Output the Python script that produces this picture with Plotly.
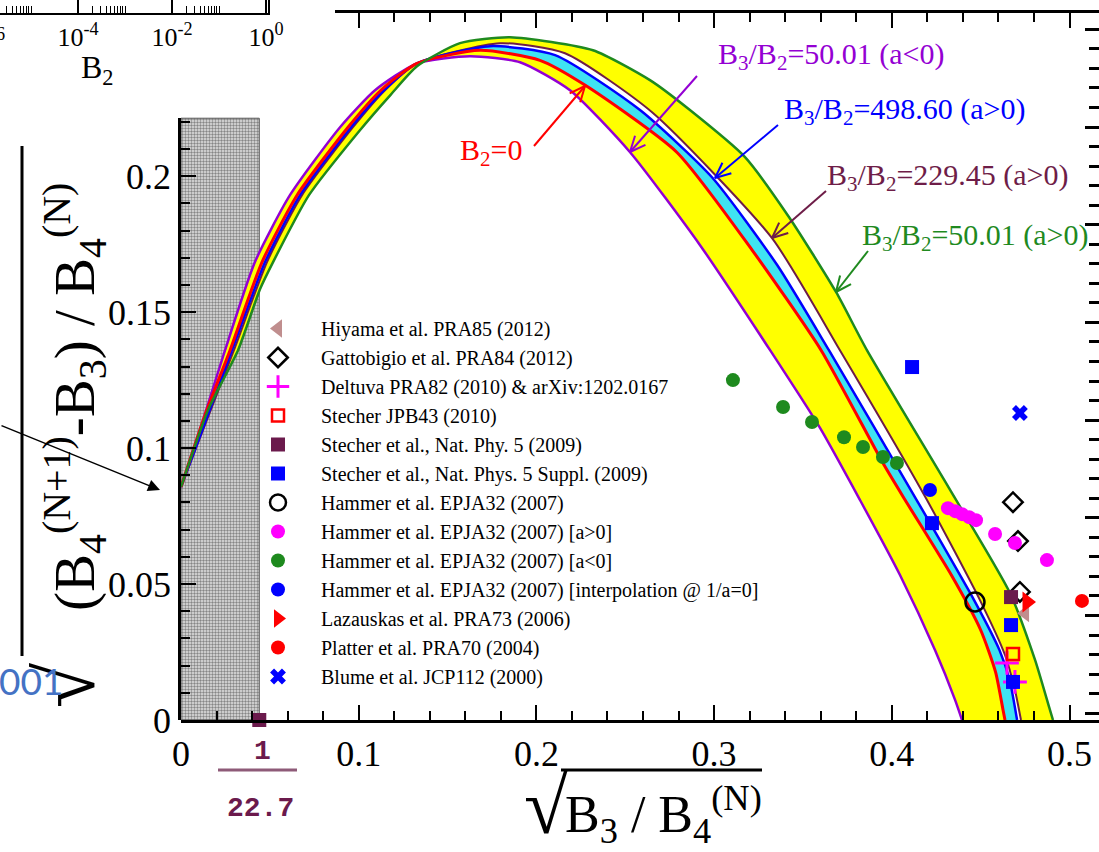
import math
import plotly.graph_objects as go

W, H = 1099, 852

# ---------------------------------------------------------------
# Universal curves: x = sqrt(B3/B4^(N)), y = sqrt((B4^(N+1)-B3)/B4^(N))
# ---------------------------------------------------------------
neg50_x = [0.0, 0.0124, 0.0248, 0.0416, 0.0613, 0.0895, 0.1092, 0.1328, 0.1626, 0.1908,
           0.2189, 0.2527, 0.2921, 0.3315, 0.3596, 0.3821, 0.4046, 0.4243, 0.4356, 0.4395]
neg50_y = [0.0857, 0.1103, 0.1360, 0.1684, 0.1930, 0.2180, 0.2316, 0.2415, 0.2441, 0.2419,
           0.2316, 0.2088, 0.1746, 0.1360, 0.1074, 0.0809, 0.0533, 0.0257, 0.0074, 0.0]

b2zero_x = [0.0, 0.0135, 0.0276, 0.0456, 0.0653, 0.0940, 0.1125, 0.1328, 0.1683, 0.2020, 0.2273,
            0.2790, 0.3214, 0.3602, 0.3950, 0.4075, 0.4335, 0.4500, 0.4584, 0.4626, 0.4637]
b2zero_y = [0.0857, 0.1121, 0.1360, 0.1684, 0.1930, 0.2180, 0.2316, 0.2415, 0.2463, 0.2426, 0.2335,
            0.2088, 0.1728, 0.1360, 0.0945, 0.0809, 0.0533, 0.0331, 0.0176, 0.0037, 0.0]

pos498_x = [0.0, 0.0287, 0.0473, 0.0670, 0.0957, 0.1142, 0.1328, 0.1739, 0.2105, 0.2583,
            0.2988, 0.3355, 0.3646, 0.4140, 0.4463, 0.4606, 0.4663, 0.4705]
pos498_y = [0.0857, 0.1360, 0.1684, 0.1930, 0.2180, 0.2316, 0.2415, 0.2478, 0.2445, 0.2243,
            0.1996, 0.1673, 0.1360, 0.0809, 0.0441, 0.0257, 0.0147, 0.0]

pos229_x = [0.0, 0.0298, 0.0484, 0.0681, 0.0968, 0.1148, 0.1328, 0.1795, 0.2161, 0.2651,
            0.3326, 0.3708, 0.4198, 0.4496, 0.4637, 0.4693, 0.4727]
pos229_y = [0.0857, 0.1360, 0.1684, 0.1930, 0.2180, 0.2316, 0.2415, 0.2489, 0.2452, 0.2235,
            0.1772, 0.1360, 0.0809, 0.0441, 0.0239, 0.0110, 0.0]

pos50_x = [0.0, 0.0152, 0.0321, 0.0445, 0.0518, 0.0720, 0.1007, 0.1182, 0.1328, 0.1570, 0.1851,
           0.2318, 0.2639, 0.2864, 0.3174, 0.3422, 0.3686, 0.3860, 0.4328, 0.4665, 0.4806, 0.4890, 0.4907]
pos50_y = [0.0857, 0.1140, 0.1360, 0.1585, 0.1684, 0.1930, 0.2169, 0.2301, 0.2404, 0.2489, 0.2511,
           0.2463, 0.2353, 0.2243, 0.2070, 0.1849, 0.1574, 0.1360, 0.0846, 0.0467, 0.0221, 0.0037, 0.0]

# lower limit of sqrt(B3/B4^(N)) = 1/22.7
LIMIT_DENOM = 22.7
LIMIT_TOP = 0.2213

# ---------------------------------------------------------------
# Published calculations
# ---------------------------------------------------------------
hiyama_x = [0.4750]
hiyama_y = [0.0393]
gatto_x = [0.4682, 0.4710, 0.4721]
gatto_y = [0.0801, 0.0658, 0.0471]
deltuva_x = [0.4648, 0.4693]
deltuva_y = [0.0210, 0.0140]
stecher_jpb_x = [0.4682]
stecher_jpb_y = [0.0243]
stecher_np_x = [1.0 / LIMIT_DENOM, 0.4671]
stecher_np_y = [0.0, 0.0452]
stecher_sup_x = [0.4114, 0.4226, 0.4671, 0.4682]
stecher_sup_y = [0.1298, 0.0724, 0.0349, 0.0140]
hammer_x = [0.4468]
hammer_y = [0.0434]
hammer_pos_x = [0.4316, 0.4356, 0.4395, 0.4435, 0.4474, 0.4581, 0.4693, 0.4873]
hammer_pos_y = [0.0779, 0.0768, 0.0757, 0.0746, 0.0735, 0.0684, 0.0651, 0.0588]
hammer_neg_x = [0.3106, 0.3388, 0.3551, 0.3731, 0.3838, 0.3950, 0.4029]
hammer_neg_y = [0.1250, 0.1151, 0.1096, 0.1040, 0.1004, 0.0967, 0.0945]
hammer_int_x = [0.4215]
hammer_int_y = [0.0846]
lazauskas_x = [0.4761]
lazauskas_y = [0.0434]
platter_x = [0.5070]
platter_y = [0.0438]
blume_x = [0.4721]
blume_y = [0.1129]

# inset axis (B2, log scale)
inset_major = [1e-4, 1e-2, 1.0]
inset_major_text = ["10<sup>-4</sup>", "10<sup>-2</sup>", "10<sup>0</sup>"]

X_RANGE = [0.0, 0.5166]
Y_RANGE = [0.0, 0.26]

# ---------------------------------------------------------------
SERIF = "Liberation Serif, Times New Roman, serif"
MONO = "Liberation Mono, Courier New, monospace"
PURPLE = "#9400D3"
RED = "#FF0000"
BLUE = "#0000FF"
MAROON = "#6E1D48"
GREEN = "#1F8A1F"
YELLOW = "#FFFF00"
CYAN = "#3FE3F2"

# plot frame in pixels
PL, PR, PT, PB = 181, 1099, 13, 720
LEFT_TOP = 118      # left frame is hidden above this row by the inset
TOP_START = 335     # top frame starts here


def px(xp):
    return xp / W


def py(yp):
    return 1 - yp / H


fig = go.Figure()

# shaded excluded region
g = 1.0 / LIMIT_DENOM
fig.add_trace(go.Scatter(
    x=[0, g, g, 0, 0], y=[0, 0, LIMIT_TOP, LIMIT_TOP, 0],
    mode="lines", fill="toself",
    fillcolor="#D0D0D0",
    fillpattern=dict(shape=".", fgcolor="#2A2A2A", bgcolor="#E2E2E2", size=3, solidity=0.5),
    line=dict(color="#555555", width=1),
    showlegend=False, hoverinfo="skip"))

SPL = dict(shape="spline", smoothing=0.6)

# band fills
fig.add_trace(go.Scatter(x=neg50_x, y=neg50_y, mode="lines", line=dict(width=0, **SPL),
                         showlegend=False, hoverinfo="skip"))
fig.add_trace(go.Scatter(x=pos50_x, y=pos50_y, mode="lines", line=dict(width=0, **SPL),
                         fill="tonexty", fillcolor=YELLOW, showlegend=False, hoverinfo="skip"))
fig.add_trace(go.Scatter(x=b2zero_x, y=b2zero_y, mode="lines", line=dict(width=0, **SPL),
                         showlegend=False, hoverinfo="skip"))
fig.add_trace(go.Scatter(x=pos498_x, y=pos498_y, mode="lines", line=dict(width=0, **SPL),
                         fill="tonexty", fillcolor=CYAN, showlegend=False, hoverinfo="skip"))
fig.add_trace(go.Scatter(x=pos498_x, y=pos498_y, mode="lines", line=dict(width=0, **SPL),
                         showlegend=False, hoverinfo="skip"))
fig.add_trace(go.Scatter(x=pos229_x, y=pos229_y, mode="lines", line=dict(width=0, **SPL),
                         fill="tonexty", fillcolor="#FFFFFF", showlegend=False, hoverinfo="skip"))

# curves
for cx, cy, col, wd in [(neg50_x, neg50_y, PURPLE, 2.5), (pos229_x, pos229_y, MAROON, 2),
                        (pos498_x, pos498_y, BLUE, 2.5), (b2zero_x, b2zero_y, RED, 3),
                        (pos50_x, pos50_y, GREEN, 2.5)]:
    fig.add_trace(go.Scatter(x=cx, y=cy, mode="lines", line=dict(color=col, width=wd, **SPL),
                             showlegend=False, hoverinfo="skip"))

# data points (legend order)
pts = [
    ("Hiyama et al. PRA85 (2012)", hiyama_x, hiyama_y,
     dict(symbol="triangle-left", size=16, color="#C08E8E")),
    ("Gattobigio et al. PRA84 (2012)", gatto_x, gatto_y,
     dict(symbol="diamond-open", size=15, color="black", line=dict(width=2.5, color="black"))),
    ("Deltuva PRA82 (2010) &amp; arXiv:1202.0167", deltuva_x, deltuva_y,
     dict(symbol="cross-thin-open", size=17, color="#FF00FF", line=dict(width=3, color="#FF00FF"))),
    ("Stecher JPB43 (2010)", stecher_jpb_x, stecher_jpb_y,
     dict(symbol="square-open", size=12, color="#FF0000", line=dict(width=2.5, color="#FF0000"))),
    ("Stecher et al., Nat. Phy. 5 (2009)", stecher_np_x, stecher_np_y,
     dict(symbol="square", size=14, color="#6B1A4C")),
    ("Stecher et al., Nat. Phys. 5 Suppl. (2009)", stecher_sup_x, stecher_sup_y,
     dict(symbol="square", size=14, color="#0000FF")),
    ("Hammer et al. EPJA32 (2007)", hammer_x, hammer_y,
     dict(symbol="circle-open", size=19, color="black", line=dict(width=2.5, color="black"))),
    ("Hammer et al. EPJA32 (2007) [a&gt;0]", hammer_pos_x, hammer_pos_y,
     dict(symbol="circle", size=14, color="#FF00FF")),
    ("Hammer et al. EPJA32 (2007) [a&lt;0]", hammer_neg_x, hammer_neg_y,
     dict(symbol="circle", size=14, color="#1E8A1E")),
    ("Hammer et al. EPJA32 (2007) [interpolation @ 1/a=0]", hammer_int_x, hammer_int_y,
     dict(symbol="circle", size=14, color="#0000FF")),
    ("Lazauskas et al. PRA73 (2006)", lazauskas_x, lazauskas_y,
     dict(symbol="triangle-right", size=18, color="#FF0000")),
    ("Platter et al. PRA70 (2004)", platter_x, platter_y,
     dict(symbol="circle", size=14, color="#FF0000")),
    ("Blume et al. JCP112 (2000)", blume_x, blume_y,
     dict(symbol="x", size=14, color="#0000FF")),
]
for name, xs, ys, mk in pts:
    fig.add_trace(go.Scatter(x=xs, y=ys, mode="markers", name=name, marker=mk,
                             cliponaxis=False, hoverinfo="skip"))

# helper traces so the extra frame axes are drawn
fig.add_trace(go.Scatter(x=[None], y=[None], xaxis="x2", yaxis="y", showlegend=False, hoverinfo="skip"))
fig.add_trace(go.Scatter(x=[None], y=[None], xaxis="x", yaxis="y3", showlegend=False, hoverinfo="skip"))
fig.add_trace(go.Scatter(x=[None], y=[None], xaxis="x", yaxis="y2", showlegend=False, hoverinfo="skip"))
fig.add_trace(go.Scatter(x=[None], y=[None], xaxis="x4", yaxis="y4", showlegend=False, hoverinfo="skip"))

tickfont = dict(family=SERIF, size=36, color="black")
xdom = [px(PL), 1.0]
ydom = [py(PB), py(PT)]
unit_x = (PR - PL) / (X_RANGE[1] - X_RANGE[0])
unit_y = (PB - PT) / (Y_RANGE[1] - Y_RANGE[0])

shapes = []
annotations = []


def seg(x0, y0, x1, y1, color, width):
    shapes.append(dict(type="line", xref="paper", yref="paper",
                       x0=px(x0), y0=py(y0), x1=px(x1), y1=py(y1),
                       line=dict(color=color, width=width), layer="above"))


def arrow(tail, tip, color, width=2, head=17, spread=0.42):
    (x0, y0), (x1, y1) = tail, tip
    dx, dy = x1 - x0, y1 - y0
    L = math.hypot(dx, dy)
    vx, vy = -dx / L, -dy / L
    seg(x0, y0, x1, y1, color, width)
    for s in (1, -1):
        a = spread * s
        hx = vx * math.cos(a) - vy * math.sin(a)
        hy = vx * math.sin(a) + vy * math.cos(a)
        seg(x1, y1, x1 + head * hx, y1 + head * hy, color, width)


def label(text, xl, yc, color, size=30, anchor="left", family=SERIF, angle=0, bold=False):
    annotations.append(dict(text=text, xref="paper", yref="paper", x=px(xl), y=py(yc),
                            xanchor=anchor, yanchor="middle", showarrow=False, textangle=angle,
                            font=dict(family=family, size=size, color=color,
                                      weight="bold" if bold else "normal")))


# curve labels with arrows
label("B<sub>2</sub>=0", 458, 152, RED)
arrow((534, 146), (585, 86), RED)
label("B<sub>3</sub>/B<sub>2</sub>=50.01 (a&lt;0)", 716, 56, PURPLE)
arrow((697, 76), (630, 152), PURPLE)
label("B<sub>3</sub>/B<sub>2</sub>=498.60 (a&gt;0)", 782, 111, BLUE)
arrow((778, 125), (715, 178), BLUE)
label("B<sub>3</sub>/B<sub>2</sub>=229.45 (a&gt;0)", 825, 177, MAROON)
arrow((826, 191), (772, 238), MAROON)
label("B<sub>3</sub>/B<sub>2</sub>=50.01 (a&gt;0)", 860, 237, GREEN)
arrow((868, 251), (836, 292), GREEN)

# horizontal axis title with radical
label("\u221a", 546, 806, "black", size=80, anchor="center")
label("B<sub>3</sub> / B<sub>4</sub><sup>(N)</sup>", 563, 814, "black", size=52)
seg(561, 770, 762, 770, "black", 3)

# vertical axis title with radical
label("\u221a", 66, 686, "black", size=82, anchor="center", angle=-90)
label("(B<sub>4</sub><sup>(N+1)</sup>-B<sub>3</sub>) / B<sub>4</sub><sup>(N)</sup>", 74, 397,
      "black", size=57, anchor="center", angle=-90)
seg(22, 146, 22, 656, "black", 3)

# limit marker label 1/22.7
label("1", 262, 751, "#6B1A4C", size=28, anchor="center", family=MONO, bold=True)
seg(218, 770, 297, 770, "#8E5A78", 3)
label(f"{LIMIT_DENOM:g}", 260, 808, "#6B1A4C", size=28, anchor="center", family=MONO, bold=True)

# inset axis labels
label("10<sup>-6</sup>", -16, 40, "black", size=26, anchor="center")
label("B<sub>2</sub>", 97, 70, "black", size=32, anchor="center")

# stray blue text at the left edge
label("001", -3, 680, "#4472C4", size=37, family="Lato, Open Sans, sans-serif")

# pointer to the y-intercept
annotations.append(dict(x=px(160), y=py(490), xref="paper", yref="paper", text="",
                        showarrow=True, ax=-170, ay=-65, arrowhead=2, arrowsize=1.6,
                        arrowwidth=1.5, arrowcolor="black"))

inset_minor = [k * 10.0 ** e for e in (-6, -4, -2) for k in range(2, 11)]
inset_l = -4 - 78 / 47
inset_r = 0 + 2 / 47

fig.update_layout(
    width=W, height=H,
    margin=dict(l=0, r=0, t=0, b=0, autoexpand=False),
    paper_bgcolor="white", plot_bgcolor="rgba(0,0,0,0)",
    hovermode=False,
    font=dict(family=SERIF, color="black"),
    xaxis=dict(domain=xdom, range=X_RANGE, anchor="y", showgrid=False, zeroline=False,
               showline=True, linecolor="black", linewidth=2.5,
               ticks="inside", ticklen=15, tickwidth=2, tickcolor="black",
               tick0=0, dtick=0.1, tickfont=tickfont,
               minor=dict(ticks="inside", ticklen=9, tickwidth=1.5, dtick=0.02, tick0=0, tickcolor="black"),
               automargin=False),
    xaxis2=dict(domain=[px(TOP_START), 1.0],
                range=[(TOP_START - PL) / unit_x, X_RANGE[1]],
                anchor="y", side="top", showgrid=False, zeroline=False,
                showline=True, linecolor="black", linewidth=2.5,
                ticks="inside", ticklen=15, tickwidth=2, tickcolor="black",
                tick0=0, dtick=0.1, showticklabels=False,
                minor=dict(ticks="inside", ticklen=9, tickwidth=1.5, dtick=0.02, tick0=0, tickcolor="black"),
                automargin=False),
    yaxis=dict(domain=ydom, range=Y_RANGE, anchor="x", showgrid=False, zeroline=False,
               showline=False, ticks="", showticklabels=False, automargin=False),
    yaxis3=dict(domain=[py(PB), py(LEFT_TOP)],
                range=[0, (PB - LEFT_TOP) / unit_y], anchor="x", side="left",
                showgrid=False, zeroline=False, showline=True, linecolor="black", linewidth=2.5,
                ticks="inside", ticklen=15, tickwidth=2, tickcolor="black",
                tick0=0, dtick=0.05, tickfont=tickfont,
                minor=dict(ticks="inside", ticklen=9, tickwidth=1.5, dtick=0.01, tick0=0, tickcolor="black"),
                automargin=False),
    yaxis2=dict(overlaying="y", side="right", anchor="x", range=[-0.0696, 7.1668],
                showgrid=False, zeroline=False, showline=False,
                ticks="inside", ticklen=14, tickwidth=2.5, tickcolor="black",
                tick0=0, dtick=1, showticklabels=False,
                minor=dict(ticks="inside", ticklen=10, tickwidth=2.5, dtick=0.2, tick0=0, tickcolor="black"),
                automargin=False),
    xaxis4=dict(type="log", domain=[0, px(268)], range=[inset_l, inset_r], anchor="y4",
                showgrid=False, zeroline=False, showline=True, linecolor="black", linewidth=2,
                ticks="inside", ticklen=14, tickwidth=1.5, tickcolor="black",
                tickmode="array", tickvals=inset_major, ticktext=inset_major_text,
                tickfont=dict(family=SERIF, size=26, color="black"),
                minor=dict(ticks="inside", ticklen=7, tickwidth=1, tickcolor="black",
                           tickmode="array", tickvals=inset_minor),
                automargin=False),
    yaxis4=dict(domain=[py(PT), 1.0], range=[0, 1], anchor="x4", side="right",
                showgrid=False, zeroline=False, showline=True, linecolor="black", linewidth=2,
                ticks="", showticklabels=False, automargin=False),
    legend=dict(x=px(235), y=py(309), xanchor="left", yanchor="top",
                traceorder="normal",
                bgcolor="rgba(0,0,0,0)", borderwidth=0, itemwidth=76,
                tracegroupgap=0, font=dict(family=SERIF, size=20, color="black"),
                itemclick=False, itemdoubleclick=False),
    shapes=shapes,
    annotations=annotations,
)

fig.write_html("out.html")
